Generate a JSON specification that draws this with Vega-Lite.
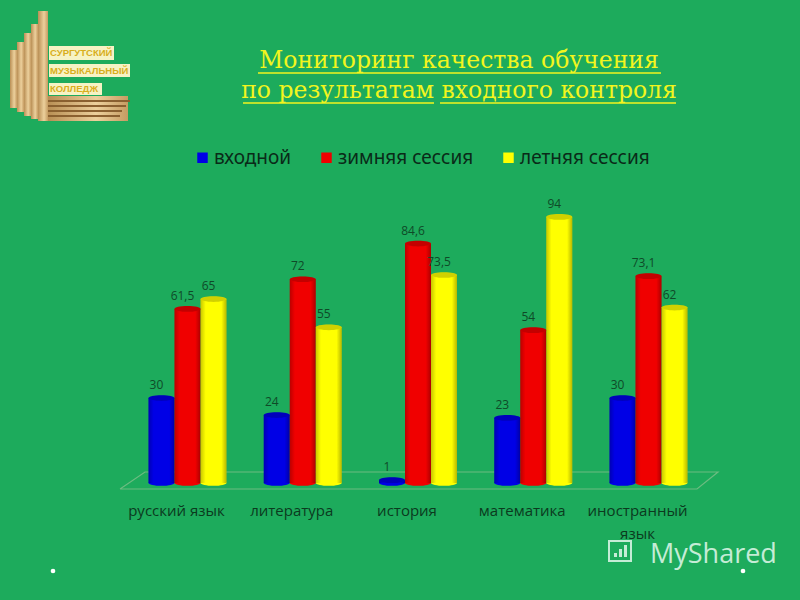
{
"$schema":"https://vega.github.io/schema/vega-lite/v6.json",
"width":578,"height":283,
"autosize":"none",
"padding":{"left":129,"top":200,"right":93,"bottom":117},
"background":"#1dab5c",
"title":{"text":["Мониторинг  качества обучения","по результатам входного контроля"],"font":"DejaVu Serif","fontSize":23.5,"fontWeight":"normal","color":"#f2f51e","anchor":"middle","frame":"group","dx":41,"dy":95,"lineHeight":30,"baseline":"top"},
"config":{"view":{"stroke":null}},
"datasets":{
"scores":[
{"subject":"русский язык","series":"входной","value":30,"label":"30"},
{"subject":"русский язык","series":"зимняя сессия","value":61.5,"label":"61,5"},
{"subject":"русский язык","series":"летняя сессия","value":65,"label":"65"},
{"subject":"литература","series":"входной","value":24,"label":"24"},
{"subject":"литература","series":"зимняя сессия","value":72,"label":"72"},
{"subject":"литература","series":"летняя сессия","value":55,"label":"55"},
{"subject":"история","series":"входной","value":1,"label":"1"},
{"subject":"история","series":"зимняя сессия","value":84.6,"label":"84,6"},
{"subject":"история","series":"летняя сессия","value":73.5,"label":"73,5"},
{"subject":"математика","series":"входной","value":23,"label":"23"},
{"subject":"математика","series":"зимняя сессия","value":54,"label":"54"},
{"subject":"математика","series":"летняя сессия","value":94,"label":"94"},
{"subject":"иностранный язык","series":"входной","value":30,"label":"30"},
{"subject":"иностранный язык","series":"зимняя сессия","value":73.1,"label":"73,1"},
{"subject":"иностранный язык","series":"летняя сессия","value":62,"label":"62"}
],
"floor":[{"i":0,"fx":-9,"fy":489},{"i":1,"fx":16,"fy":472},{"i":2,"fx":589,"fy":472},{"i":3,"fx":568,"fy":489},{"i":4,"fx":-9,"fy":489}],
"underline":[
{"id":"a","fx":129,"fy":73},{"id":"a","fx":532,"fy":73},
{"id":"b","fx":114,"fy":103},{"id":"b","fx":305,"fy":103},
{"id":"c","fx":311,"fy":103},{"id":"c","fx":547,"fy":103}
],
"logoBlocks":[
{"fx":-119,"fx2":-112,"fy":50,"fy2":108},
{"fx":-112,"fx2":-105,"fy":42,"fy2":112},
{"fx":-105,"fx2":-98,"fy":33,"fy2":116},
{"fx":-98,"fx2":-91,"fy":24,"fy2":119},
{"fx":-91,"fx2":-81,"fy":11,"fy2":121},
{"fx":-81,"fx2":-1,"fy":96,"fy2":121}
],
"logoStripes":[
{"fx":-81,"fx2":1,"fy":100,"fy2":102},
{"fx":-81,"fx2":-3,"fy":105,"fy2":107},
{"fx":-81,"fx2":-7,"fy":110,"fy2":112},
{"fx":-81,"fx2":-9,"fy":115,"fy2":117}
],
"logoBack":[
{"fx":-80,"fx2":-15,"fy":46,"fy2":60},
{"fx":-80,"fx2":1,"fy":64,"fy2":77},
{"fx":-80,"fx2":-27,"fy":83,"fy2":95}
],
"logoText":[
{"fx":-79,"fy":53,"t":"СУРГУТСКИЙ"},
{"fx":-79,"fy":71,"t":"МУЗЫКАЛЬНЫЙ"},
{"fx":-79,"fy":89,"t":"КОЛЛЕДЖ"}
],
"dots":[{"fx":-76,"fy":571},{"fx":614,"fy":571}],
"mark":[{"fx":521,"fy":555,"t":"MyShared"}],
"iconBars":[
{"fx":485,"fx2":488,"fy":553,"fy2":557},
{"fx":490,"fx2":493,"fy":549,"fy2":557},
{"fx":495,"fx2":498,"fy":545,"fy2":557}
],
"iconFrame":[{"fx":480,"fx2":502,"fy":541,"fy2":561}]
},
"layer":[
{"layer":[
{"data":{"name":"floor"},"mark":{"type":"line","color":"#7fbf8a","strokeWidth":1.2,"opacity":0.8},
 "encoding":{"x":{"field":"fx","type":"quantitative","scale":{"domain":[0,578],"nice":false,"zero":false},"axis":null},
 "y":{"field":"fy","type":"quantitative","scale":{"domain":[483,200],"nice":false,"zero":false},"axis":null},
 "order":{"field":"i"}}},
{"data":{"name":"underline"},"mark":{"type":"line","color":"#f2f51e","strokeWidth":1.6},
 "encoding":{"x":{"field":"fx","type":"quantitative","scale":{"domain":[0,578],"nice":false,"zero":false},"axis":null},
 "y":{"field":"fy","type":"quantitative","scale":{"domain":[483,200],"nice":false,"zero":false},"axis":null},
 "detail":{"field":"id"}}},
{"data":{"name":"logoBlocks"},"mark":{"type":"rect","color":{"x1":0,"x2":1,"y1":0,"y2":0,"gradient":"linear","stops":[{"offset":0,"color":"#b98f55"},{"offset":0.6,"color":"#ecd09c"},{"offset":1,"color":"#c69c62"}]}},
 "encoding":{"x":{"field":"fx","type":"quantitative","scale":{"domain":[0,578],"nice":false,"zero":false},"axis":null},"x2":{"field":"fx2"},
 "y":{"field":"fy","type":"quantitative","scale":{"domain":[483,200],"nice":false,"zero":false},"axis":null},"y2":{"field":"fy2"}}},
{"data":{"name":"logoStripes"},"mark":{"type":"rect","color":"#8a6030"},
 "encoding":{"x":{"field":"fx","type":"quantitative","scale":{"domain":[0,578],"nice":false,"zero":false},"axis":null},"x2":{"field":"fx2"},
 "y":{"field":"fy","type":"quantitative","scale":{"domain":[483,200],"nice":false,"zero":false},"axis":null},"y2":{"field":"fy2"}}},
{"data":{"name":"logoBack"},"mark":{"type":"rect","color":"#f6f3c4"},
 "encoding":{"x":{"field":"fx","type":"quantitative","scale":{"domain":[0,578],"nice":false,"zero":false},"axis":null},"x2":{"field":"fx2"},
 "y":{"field":"fy","type":"quantitative","scale":{"domain":[483,200],"nice":false,"zero":false},"axis":null},"y2":{"field":"fy2"}}},
{"data":{"name":"logoText"},"mark":{"type":"text","font":"Liberation Sans","fontWeight":"bold","fontSize":9.5,"color":"#d9ae1c","align":"left","baseline":"middle"},
 "encoding":{"x":{"field":"fx","type":"quantitative","scale":{"domain":[0,578],"nice":false,"zero":false},"axis":null},
 "y":{"field":"fy","type":"quantitative","scale":{"domain":[483,200],"nice":false,"zero":false},"axis":null},"text":{"field":"t"}}},
{"data":{"name":"dots"},"mark":{"type":"point","filled":true,"color":"#ffffff","size":22,"opacity":1},
 "encoding":{"x":{"field":"fx","type":"quantitative","scale":{"domain":[0,578],"nice":false,"zero":false},"axis":null},
 "y":{"field":"fy","type":"quantitative","scale":{"domain":[483,200],"nice":false,"zero":false},"axis":null}}},
{"data":{"name":"iconFrame"},"mark":{"type":"rect","filled":false,"stroke":"#c5ecd6","strokeWidth":2},
 "encoding":{"x":{"field":"fx","type":"quantitative","scale":{"domain":[0,578],"nice":false,"zero":false},"axis":null},"x2":{"field":"fx2"},
 "y":{"field":"fy","type":"quantitative","scale":{"domain":[483,200],"nice":false,"zero":false},"axis":null},"y2":{"field":"fy2"}}},
{"data":{"name":"iconBars"},"mark":{"type":"rect","color":"#c5ecd6"},
 "encoding":{"x":{"field":"fx","type":"quantitative","scale":{"domain":[0,578],"nice":false,"zero":false},"axis":null},"x2":{"field":"fx2"},
 "y":{"field":"fy","type":"quantitative","scale":{"domain":[483,200],"nice":false,"zero":false},"axis":null},"y2":{"field":"fy2"}}},
{"data":{"name":"mark"},"mark":{"type":"text","font":"Open Sans","fontSize":27,"color":"#c5ecd6","align":"left","baseline":"middle"},
 "encoding":{"x":{"field":"fx","type":"quantitative","scale":{"domain":[0,578],"nice":false,"zero":false},"axis":null},
 "y":{"field":"fy","type":"quantitative","scale":{"domain":[483,200],"nice":false,"zero":false},"axis":null},"text":{"field":"t"}}}
]},
{"data":{"name":"scores"},
 "encoding":{
 "x":{"field":"subject","type":"nominal","sort":null,"title":null,
  "scale":{"paddingInner":0.323,"paddingOuter":0.169},
  "axis":{"domain":false,"ticks":false,"labelAngle":0,"labelFont":"Open Sans","labelFontSize":15,"labelColor":"#0b3a1e","labelPadding":27,"labelOffset":-11,"labelBaseline":"middle","labelLineHeight":23,"labelLimit":200,
  "labelExpr":"datum.label=='иностранный язык'?['иностранный','язык']:datum.label"}},
 "xOffset":{"field":"series","type":"nominal","scale":{"domain":["входной","зимняя сессия","летняя сессия"],"paddingInner":0,"paddingOuter":0}},
 "y":{"field":"value","type":"quantitative","title":null,"scale":{"domain":[0,100],"nice":false,"zero":true},"axis":null},
 "color":{"field":"series","type":"nominal","title":null,"scale":{"domain":["входной","зимняя сессия","летняя сессия"],"range":["#0000e6","#f00000","#ffff00"]},
   "legend":{"orient":"none","legendX":64,"legendY":-52,"direction":"horizontal","columns":3,"symbolType":"square","symbolSize":110,"symbolStrokeWidth":0,"labelFont":"Noto Sans","labelFontSize":19,"labelColor":"#0a2a18","columnPadding":25,"labelOffset":2,"labelLimit":200,"padding":0}}
 },
 "layer":[
 {"mark":{"type":"point","filled":true,"opacity":1,"shape":"M-1,0A1,0.22,0,1,1,1,0A1,0.22,0,1,1,-1,0Z","size":676},
  "encoding":{"y":{"datum":0}}},
 {"mark":{"type":"bar","width":26}},
 {"mark":{"type":"bar","width":26},
  "encoding":{"color":{"value":{"x1":0,"x2":1,"y1":0,"y2":0,"gradient":"linear","stops":[{"offset":0,"color":"rgba(0,0,0,0.22)"},{"offset":0.2,"color":"rgba(0,0,0,0)"},{"offset":0.8,"color":"rgba(0,0,0,0)"},{"offset":1,"color":"rgba(0,0,0,0.28)"}]}}}},
 {"mark":{"type":"point","filled":true,"opacity":1,"shape":"M-1,0A1,0.22,0,1,1,1,0A1,0.22,0,1,1,-1,0Z","size":676}},
 {"mark":{"type":"point","filled":true,"opacity":0.18,"shape":"M-1,0A1,0.22,0,1,1,1,0A1,0.22,0,1,1,-1,0Z","size":676},"encoding":{"color":{"value":"#000000"}}},
 {"mark":{"type":"text","font":"Open Sans","fontSize":12,"dx":-5,"dy":-13,"baseline":"middle"},
  "encoding":{"text":{"field":"label"},"color":{"value":"#0f4a28"}}}
 ]}
],
"resolve":{"scale":{"x":"independent","y":"independent"}}
}
